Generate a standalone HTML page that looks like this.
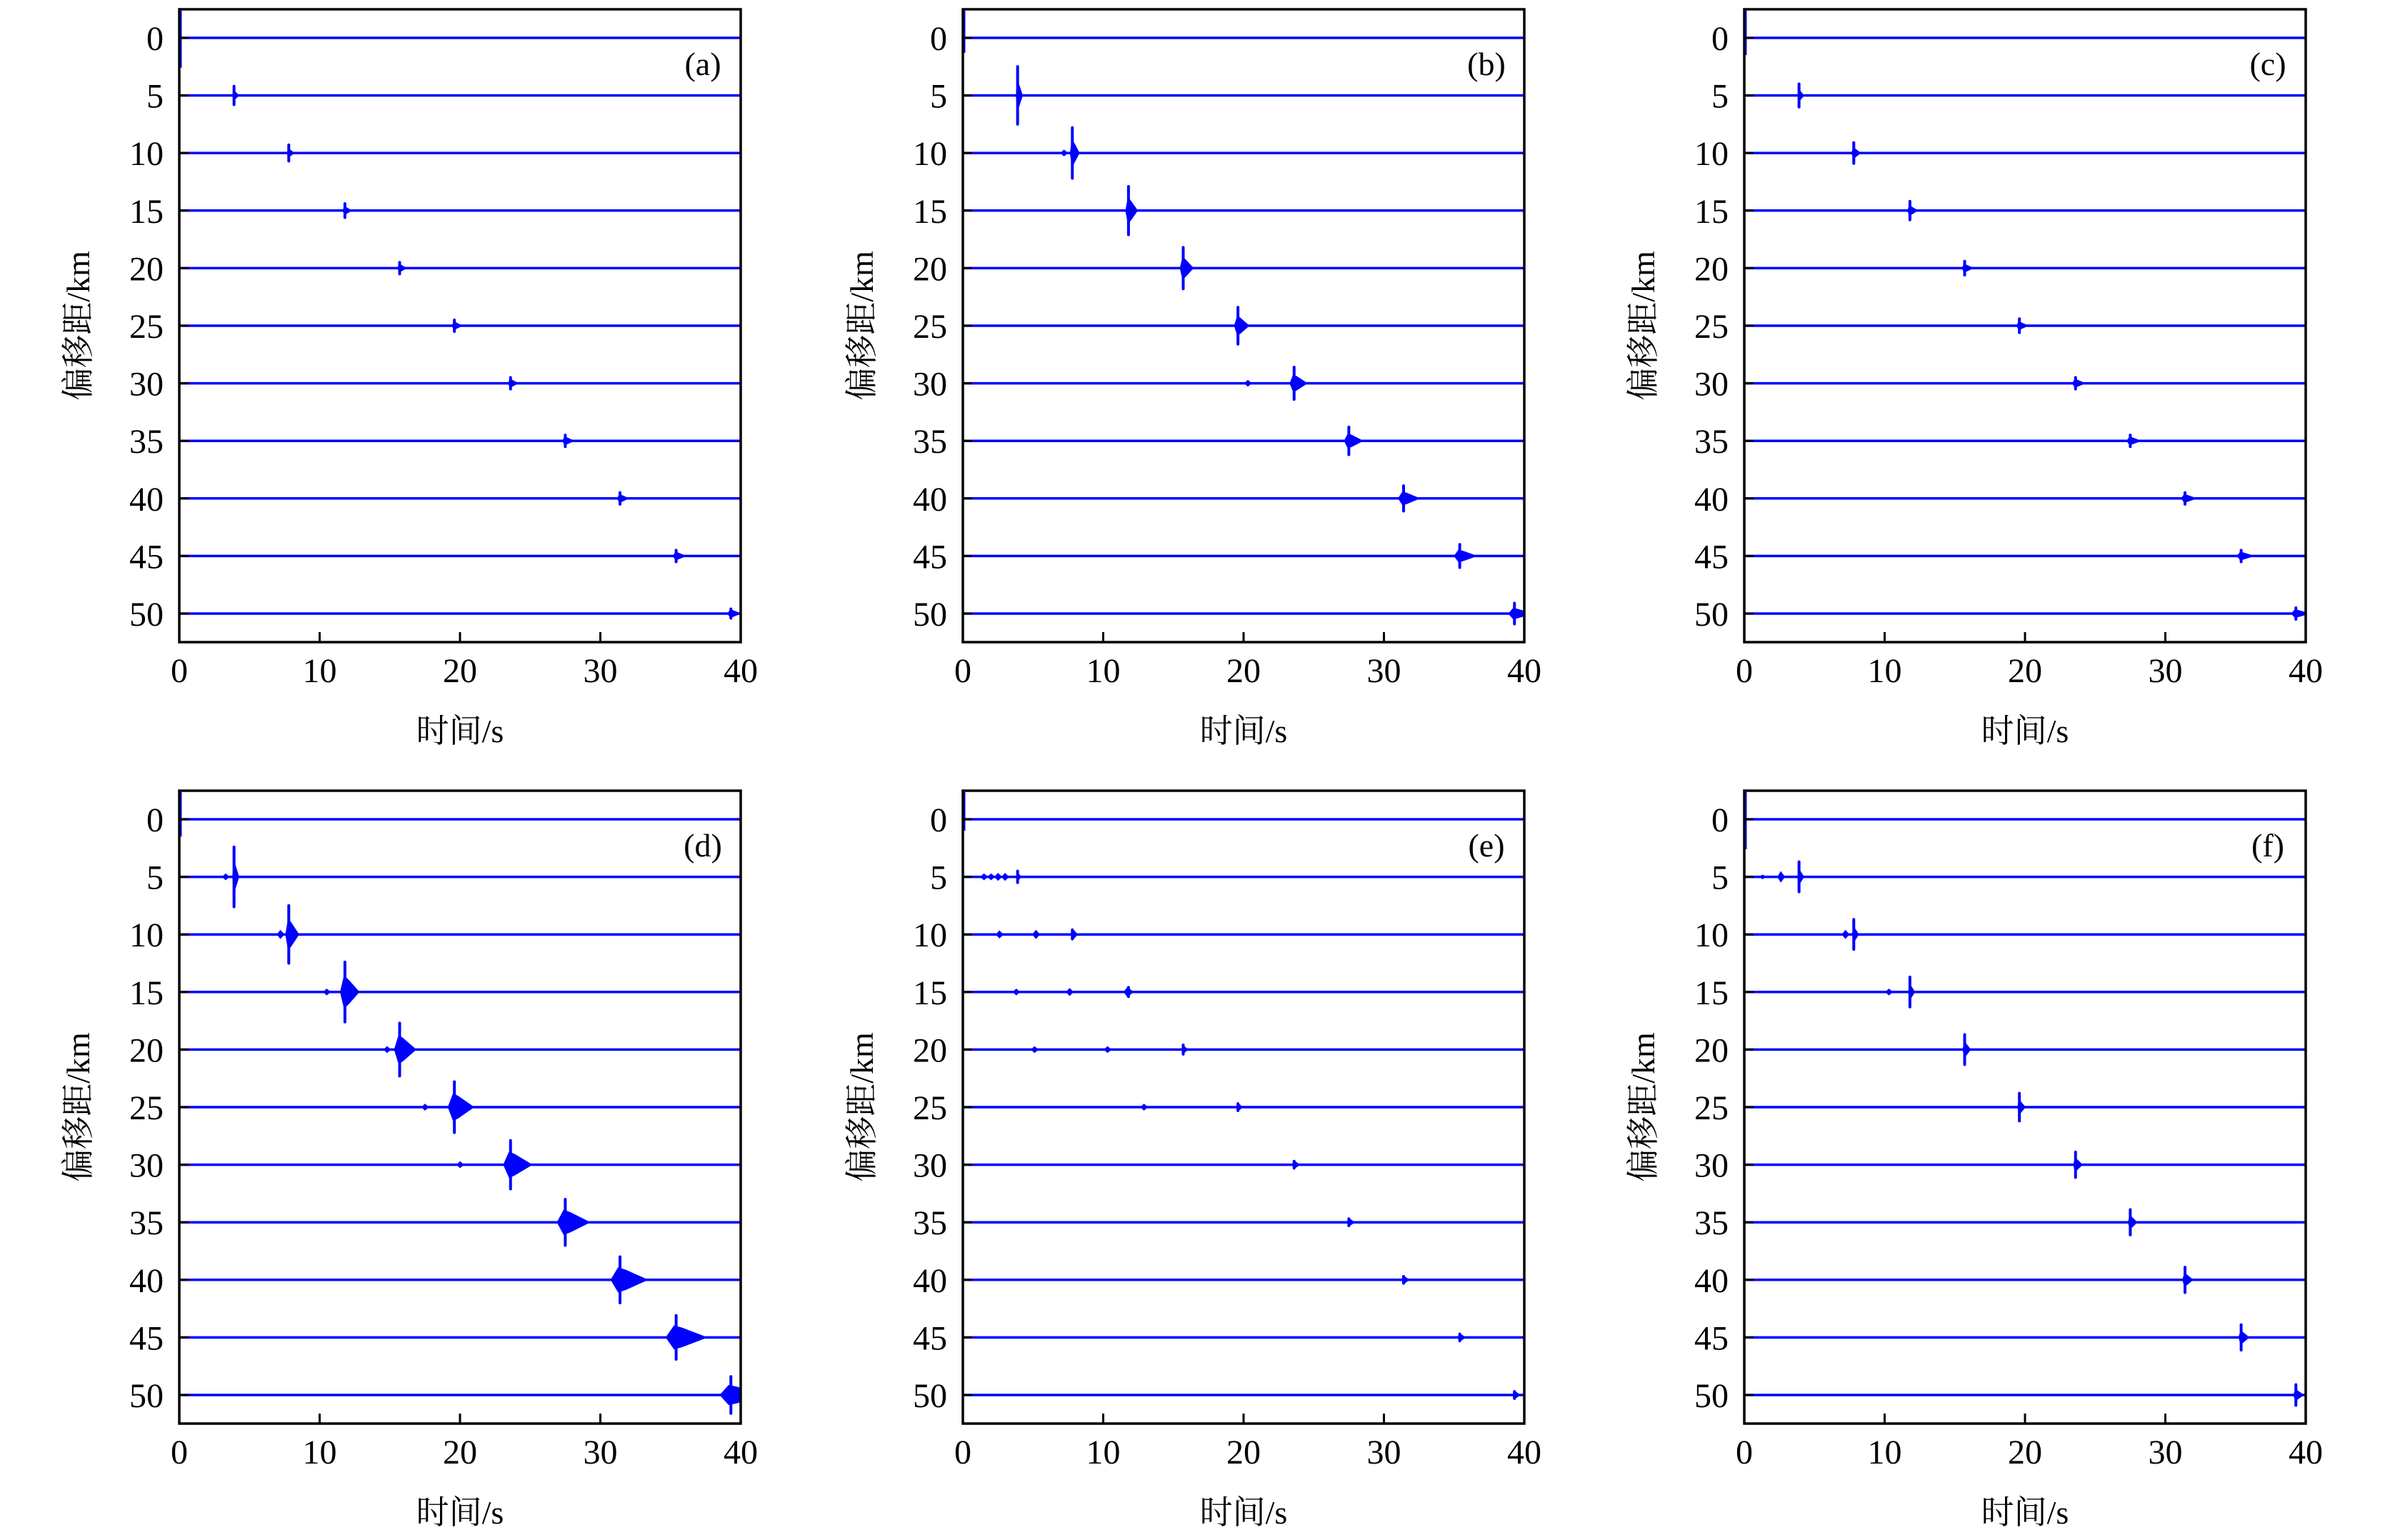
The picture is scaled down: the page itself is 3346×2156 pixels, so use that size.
<!DOCTYPE html>
<html><head><meta charset="utf-8">
<style>
html,body{margin:0;padding:0;background:#fff;}
svg{display:block;}
text{font-family:"Liberation Serif","Noto Serif CJK SC",serif;fill:#000;}
</style></head>
<body>
<svg id="fig" width="3346" height="2156" viewBox="0 0 3346 2156" xmlns="http://www.w3.org/2000/svg"></svg>
<script>
// ---- data ----
const panelLabels = ['(a)','(b)','(c)','(d)','(e)','(f)'];
const offsets = [0,5,10,15,20,25,30,35,40,45,50];
const xTicks = [0,10,20,30,40];
const arrivalTimes = [0.1,3.9,7.8,11.8,15.7,19.6,23.6,27.5,31.4,35.4,39.3];
// amplitude (km units) and duration (s) of the main event per panel per trace
const ampA = [2.6,0.8,0.7,0.6,0.5,0.5,0.5,0.5,0.5,0.5,0.4];
const durA = [0.2,0.5,0.6,0.7,0.7,0.8,0.8,0.9,0.9,1.0,1.0];
const ampB = [1.3,2.5,2.2,2.1,1.8,1.6,1.4,1.2,1.1,1.0,0.9];
const durB = [0.2,0.5,0.7,0.9,1.0,1.1,1.3,1.4,1.6,1.7,1.8];
const ampC = [1.5,1.0,0.9,0.8,0.6,0.6,0.5,0.5,0.5,0.5,0.5];
const durC = [0.2,0.5,0.7,0.8,0.9,0.9,1.0,1.1,1.2,1.3,1.4];
const ampD = [1.5,2.6,2.5,2.6,2.3,2.2,2.1,2.0,2.0,1.9,1.6];
const durD = [0.2,0.5,1.0,1.4,1.6,1.9,2.1,2.4,2.7,3.0,3.2];
const ampE = [1.0,0.5,0.4,0.4,0.4,0.3,0.3,0.3,0.3,0.3,0.3];
const durE = [0.2,0.4,0.5,0.5,0.5,0.5,0.6,0.6,0.6,0.6,0.6];
const ampF = [2.6,1.3,1.3,1.3,1.3,1.2,1.1,1.1,1.1,1.1,0.9];
const durF = [0.2,0.5,0.5,0.5,0.6,0.6,0.7,0.7,0.8,0.8,0.8];
// precursor / extra events: panel, trace index, time (s), amplitude (km)
const extraPanel = [1,1,3,3,3,3,3,3,4,4,4,4,4,4,4,4,4,4,4,4,4,5,5,5,5];
const extraTrace = [2,6,2,3,5,6,1,4,1,1,1,2,2,3,3,4,4,5,1,2,3,1,1,2,3];
const extraTime  = [7.2,20.3,7.2,10.5,17.5,20.0,3.3,14.8,1.5,2.5,3.0,2.6,5.2,3.8,7.6,5.1,10.3,12.9,2.0,7.9,11.7,1.3,2.6,7.2,10.3];
const extraAmp   = [0.3,0.3,0.4,0.3,0.3,0.3,0.3,0.3,0.3,0.35,0.35,0.35,0.4,0.3,0.35,0.3,0.3,0.3,0.3,0.4,0.4,0.2,0.5,0.4,0.3];
const amps = [ampA,ampB,ampC,ampD,ampE,ampF];
const durs = [durA,durB,durC,durD,durE,durF];

// ---- layout ----
const NS='http://www.w3.org/2000/svg';
const svg=document.getElementById('fig');
const lefts=[251,1348,2442], tops=[13,1107];
const W=786, H=886, Y0=40, KM=16.12;
function mk(tag,attrs,parent){const e=document.createElementNS(NS,tag);for(const k in attrs)e.setAttribute(k,attrs[k]);(parent||svg).appendChild(e);return e;}
const defs=mk('defs',{});

for(let p=0;p<6;p++){
  const L=lefts[p%3], T=tops[Math.floor(p/3)];
  const xs=t=>L+t*W/40;
  const ys=v=>T+Y0+v*KM;
  const cp=mk('clipPath',{id:'clip'+p},defs);
  mk('rect',{x:L,y:T,width:W,height:H},cp);
  const g=mk('g',{});
  
  
  const gd=mk('g',{'clip-path':'url(#clip'+p+')'},g);
  
  
  for(let i=0;i<offsets.length;i++){
    const y=ys(offsets[i]);
    const ln=mk('line',{x1:L,x2:L+W,y1:y,y2:y,stroke:'#0000ff','stroke-width':3.5},gd);
    
    
    const A=amps[p][i]*KM, d=durs[p][i]*W/40;
    const x=xs(arrivalTimes[i]);
    if(i===0){
      const sp=mk('line',{x1:x,x2:x,y1:T+2,y2:y+A,stroke:'#0000ff','stroke-width':3},gd);
      
      
      continue;
    }
    const spike=mk('line',{x1:x,x2:x,y1:y-A,y2:y+A,stroke:'#0000ff','stroke-width':4,'stroke-linecap':'round'},gd);
    
    
    const bh=Math.max(6,A*0.55);
    const body=mk('polygon',{points:`${x-d*0.25},${y} ${x-d*0.05},${y-bh} ${x+d*0.15},${y-bh*0.8} ${x+d*0.75},${y} ${x+d*0.15},${y+bh*0.8} ${x-d*0.05},${y+bh}`,fill:'#0000ff'},gd);
    
    
  }
  for(let k=0;k<extraPanel.length;k++){
    if(extraPanel[k]!==p)continue;
    const y=ys(offsets[extraTrace[k]]), x=xs(extraTime[k]), A=extraAmp[k]*KM;
    const e=mk('polygon',{points:`${x-5},${y} ${x},${y-A} ${x+6},${y} ${x},${y+A}`,fill:'#0000ff'},gd);
    
    
  }
  const fr=mk('rect',{x:L,y:T,width:W,height:H,fill:'none',stroke:'#000','stroke-width':3.5},g);
  
  
  for(const v of offsets){
    const y=ys(v);
    const tk=mk('line',{x1:L,x2:L+13,y1:y,y2:y,stroke:'#000','stroke-width':3},g);
    
    
    const tx=mk('text',{x:L-22,y:y+17,'font-size':48,'text-anchor':'end'},g);
    tx.textContent=v;
    
    
  }
  for(const t of xTicks){
    const x=xs(t);
    if(t>0&&t<40){
      const tk=mk('line',{x1:x,x2:x,y1:T+H,y2:T+H-14,stroke:'#000','stroke-width':3},g);
      
      
    }
    const tx=mk('text',{x:x,y:T+H+56,'font-size':48,'text-anchor':'middle'},g);
    tx.textContent=t;
    
    
  }
  const xl=mk('text',{x:L+W/2,y:T+H+140,'font-size':46,'text-anchor':'middle'},g);
  xl.textContent='时间/s';
  
  
  const yl=mk('text',{x:0,y:0,'font-size':46,'text-anchor':'middle',transform:`translate(${L-126},${T+H/2}) rotate(-90)`},g);
  yl.textContent='偏移距/km';
  
  
  const pl=mk('text',{x:L+W-53,y:T+92,'font-size':46,'text-anchor':'middle'},g);
  pl.textContent=panelLabels[p];
  
  
}
</script>
</body></html>
